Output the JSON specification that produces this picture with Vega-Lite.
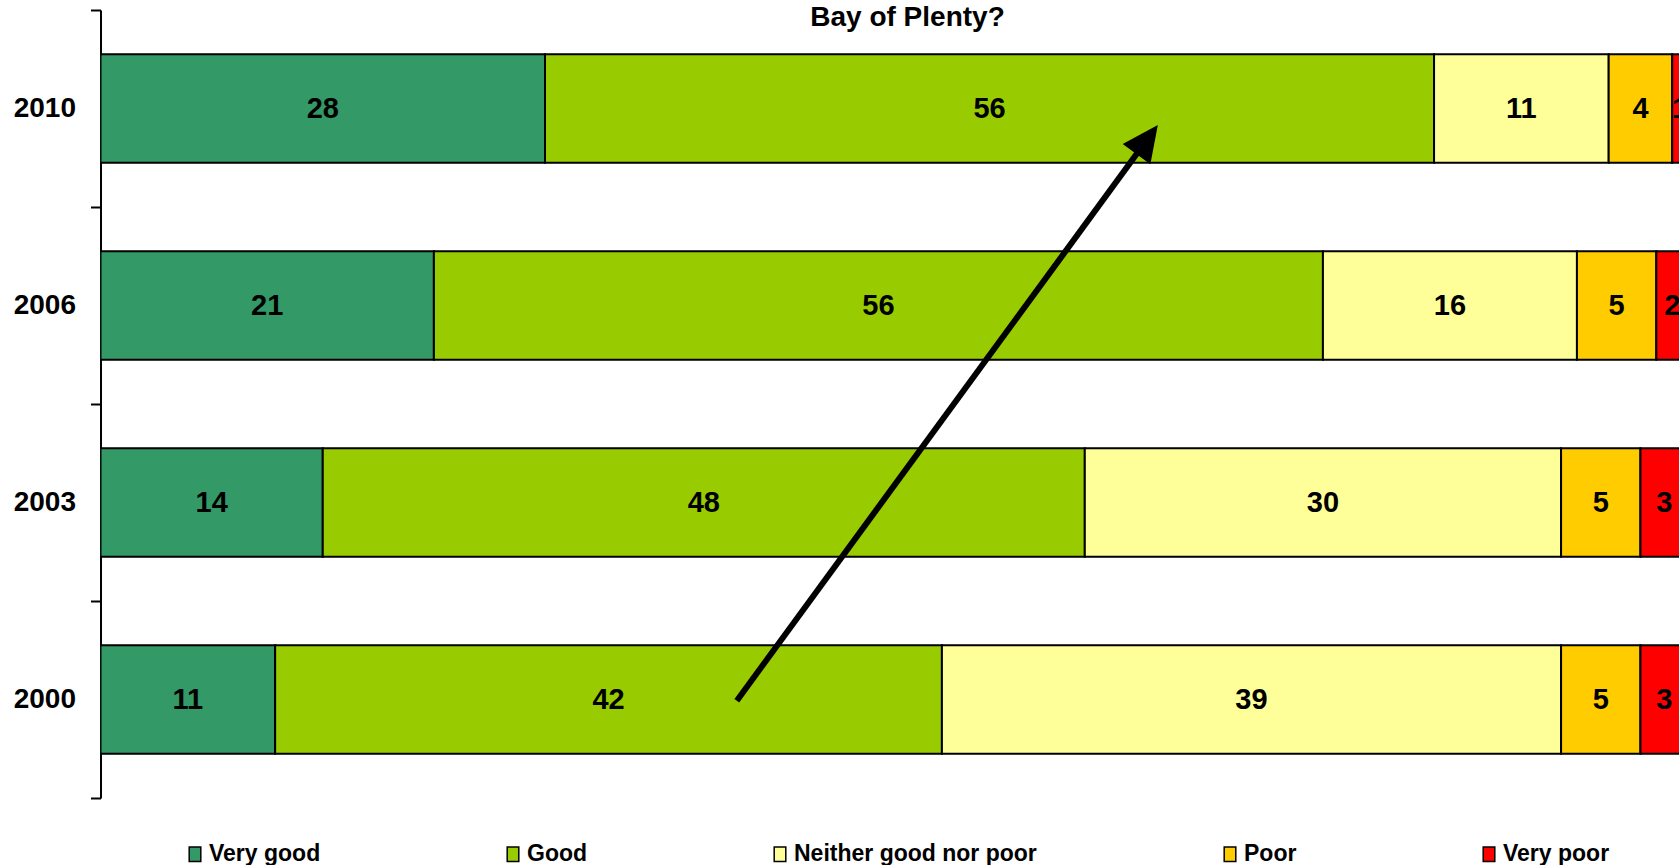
{
  "$schema": "https://vega.github.io/schema/vega-lite/v6.json",
  "width": 1579,
  "height": 788,
  "autosize": {"type": "none"},
  "padding": {"left": 100.5, "top": 10, "right": 0, "bottom": 67},
  "background": "white",
  "config": {"view": {"stroke": null}, "font": "Liberation Sans"},
  "title": {
    "text": "Bay of Plenty?",
    "fontSize": 28,
    "font": "Liberation Sans",
    "fontWeight": "bold",
    "color": "black",
    "anchor": "middle",
    "frame": "group",
    "offset": -22.5,
    "dx": 17.5
  },
  "datasets": {
    "bars": [
      {"year": "2010", "cat": "Very good", "rank": 1, "pct": 28},
      {"year": "2010", "cat": "Good", "rank": 2, "pct": 56},
      {"year": "2010", "cat": "Neither good nor poor", "rank": 3, "pct": 11},
      {"year": "2010", "cat": "Poor", "rank": 4, "pct": 4},
      {"year": "2010", "cat": "Very poor", "rank": 5, "pct": 1},
      {"year": "2006", "cat": "Very good", "rank": 1, "pct": 21},
      {"year": "2006", "cat": "Good", "rank": 2, "pct": 56},
      {"year": "2006", "cat": "Neither good nor poor", "rank": 3, "pct": 16},
      {"year": "2006", "cat": "Poor", "rank": 4, "pct": 5},
      {"year": "2006", "cat": "Very poor", "rank": 5, "pct": 2},
      {"year": "2003", "cat": "Very good", "rank": 1, "pct": 14},
      {"year": "2003", "cat": "Good", "rank": 2, "pct": 48},
      {"year": "2003", "cat": "Neither good nor poor", "rank": 3, "pct": 30},
      {"year": "2003", "cat": "Poor", "rank": 4, "pct": 5},
      {"year": "2003", "cat": "Very poor", "rank": 5, "pct": 3},
      {"year": "2000", "cat": "Very good", "rank": 1, "pct": 11},
      {"year": "2000", "cat": "Good", "rank": 2, "pct": 42},
      {"year": "2000", "cat": "Neither good nor poor", "rank": 3, "pct": 39},
      {"year": "2000", "cat": "Poor", "rank": 4, "pct": 5},
      {"year": "2000", "cat": "Very poor", "rank": 5, "pct": 3}
    ],
    "arrow": [
      {"xa": 40.08, "ya": 0.494, "xb": 65.54, "yb": 3.299}
    ],
    "head": [
      {"xh": 65.93, "yh": 3.342}
    ]
  },
  "layer": [
    {
      "data": {"name": "bars"},
      "transform": [
        {"stack": "pct", "groupby": ["year"], "sort": [{"field": "rank"}], "as": ["x0", "x1"]},
        {"calculate": "(datum.x0 + datum.x1) / 2", "as": "xmid"}
      ],
      "layer": [
        {
          "mark": {"type": "bar", "clip": true, "stroke": "black", "strokeWidth": 2},
          "encoding": {
            "y": {
              "field": "year",
              "type": "nominal",
              "sort": ["2010", "2006", "2003", "2000"],
              "scale": {"paddingInner": 0.45, "paddingOuter": 0.225},
              "axis": {
                "ticks": false,
                "domain": false,
                "labelFontSize": 28,
                "labelFont": "Liberation Sans",
                "labelFontWeight": "bold",
                "labelColor": "black",
                "labelPadding": 25,
                "title": null
              }
            },
            "x": {"field": "x0", "type": "quantitative", "scale": {"domain": [0, 99.46], "nice": false, "zero": true}, "axis": null},
            "x2": {"field": "x1"},
            "color": {
              "field": "cat",
              "type": "nominal",
              "scale": {
                "domain": ["Very good", "Good", "Neither good nor poor", "Poor", "Very poor"],
                "range": ["#339966", "#99CC00", "#FFFF99", "#FFCC00", "#FF0000"]
              },
              "legend": {
                "orient": "none",
                "legendX": 83,
                "legendY": 832.5,
                "direction": "horizontal",
                "columns": 5,
                "title": null,
                "padding": 0,
                "columnPadding": 181,
                "labelFontSize": 23,
                "labelFont": "Liberation Sans",
                "labelFontWeight": "bold",
                "labelColor": "black",
                "labelLimit": 400,
                "labelOffset": 2.5,
                "symbolType": "M-0.8,-1H0.8V1H-0.8Z",
                "symbolSize": 210,
                "symbolStrokeColor": "black",
                "symbolStrokeWidth": 1.5,
                "symbolOpacity": 1
              }
            }
          }
        },
        {
          "mark": {"type": "text", "clip": true, "fontSize": 29, "fontWeight": "bold", "font": "Liberation Sans", "color": "black", "baseline": "middle", "align": "center"},
          "encoding": {
            "y": {"field": "year", "type": "nominal", "sort": ["2010", "2006", "2003", "2000"]},
            "x": {"field": "xmid", "type": "quantitative"},
            "text": {"field": "pct", "type": "quantitative"}
          }
        }
      ]
    },
    {
      "layer": [
        {
          "data": {"name": "arrow"},
          "mark": {"type": "rule", "strokeWidth": 6, "color": "black", "strokeCap": "butt"},
          "encoding": {
            "x": {"field": "xa", "type": "quantitative"},
            "x2": {"field": "xb"},
            "y": {
              "field": "ya",
              "type": "quantitative",
              "scale": {"domain": [0, 4], "nice": false},
              "axis": {
                "orient": "left",
                "values": [0, 1, 2, 3, 4],
                "labels": false,
                "ticks": true,
                "tickSize": 10,
                "tickColor": "black",
                "tickWidth": 2,
                "domainColor": "black",
                "domainWidth": 2,
                "grid": false,
                "title": null
              }
            },
            "y2": {"field": "yb"}
          }
        },
        {
          "data": {"name": "head"},
          "mark": {"type": "point", "shape": "M0,-1L-0.95,1L0.95,1Z", "size": 1300, "filled": true, "color": "black", "opacity": 1, "angle": 36.2},
          "encoding": {
            "x": {"field": "xh", "type": "quantitative"},
            "y": {"field": "yh", "type": "quantitative"}
          }
        }
      ]
    }
  ],
  "resolve": {"scale": {"y": "independent"}, "axis": {"y": "independent"}}
}
